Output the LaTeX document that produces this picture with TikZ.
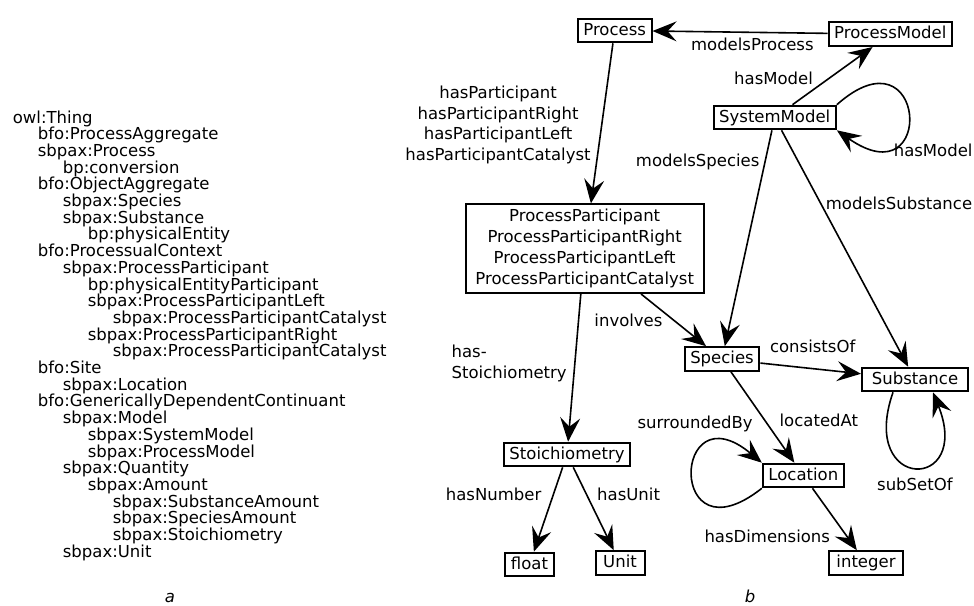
\documentclass[tikz,border=0pt]{standalone}
\usepackage{fontspec}
\setmainfont{DejaVu Sans}
\usetikzlibrary{arrows.meta}

\begin{document}
\begin{tikzpicture}[x=1pt, y=-1pt,
  every node/.style={font=\fontsize{16.5pt}{20.5pt}\selectfont},
  cls/.style={draw, line width=2pt, inner xsep=5.6pt, inner ysep=2pt,
    minimum height=23.6pt, text height=13pt, text depth=3.5pt},
  clsmulti/.style={draw, line width=2pt, inner xsep=9.8pt, inner ysep=4.8pt,
    align=center, font=\fontsize{16.5pt}{21pt}\selectfont},
  rel/.style={-{Stealth[length=24pt, width=20pt, inset=9pt]}, line width=1.6pt},
  lbl/.style={inner sep=3.3pt},
  tree/.style={anchor=base west, inner sep=0pt}]
  \useasboundingbox (0,0) rectangle (974,605);

  % Class hierarchy (a)
  \foreach \lev/\name [count=\i] in {0/owl:Thing, 1/bfo:ProcessAggregate,
      1/sbpax:Process, 2/bp:conversion, 1/bfo:ObjectAggregate, 2/sbpax:Species,
      2/sbpax:Substance, 3/bp:physicalEntity, 1/bfo:ProcessualContext,
      2/sbpax:ProcessParticipant, 3/bp:physicalEntityParticipant,
      3/sbpax:ProcessParticipantLeft, 4/sbpax:ProcessParticipantCatalyst,
      3/sbpax:ProcessParticipantRight, 4/sbpax:ProcessParticipantCatalyst,
      1/bfo:Site, 2/sbpax:Location, 1/bfo:GenericallyDependentContinuant,
      2/sbpax:Model, 3/sbpax:SystemModel, 3/sbpax:ProcessModel,
      2/sbpax:Quantity, 3/sbpax:Amount, 4/sbpax:SubstanceAmount,
      4/sbpax:SpeciesAmount, 4/sbpax:Stoichiometry, 2/sbpax:Unit}
    \node[tree] (t\i) at (12.7+25*\lev, 106.3+16.7*\i) {\name};

  % Classes (b)
  \node[cls] (process) at (614.7,30.5) {Process};
  \node[cls] (processmodel) at (890.3,34.2) {ProcessModel};
  \node[cls] (systemmodel) at (774.7,117.5) {SystemModel};
  \node[clsmulti] (participant) at (584.7,248.7)
    {ProcessParticipant\\ProcessParticipantRight\\ProcessParticipantLeft\\ProcessParticipantCatalyst};
  \node[cls] (species) at (722,359) {Species};
  \node[cls, minimum width=106pt] (substance) at (915,379.5) {Substance};
  \node[cls] (stoichiometry) at (567,454.5) {Stoichiometry};
  \node[cls] (float) at (529.5,564.5) {float};
  \node[cls, minimum width=49pt] (unit) at (620,563) {Unit};
  \node[cls] (location) at (803.3,475.5) {Location};
  \node[cls, minimum width=74.5pt] (integer) at (866,563) {integer};

  % Relations
  \draw[rel] (processmodel) -- node[lbl, pos=0.43, below=1.5pt] (lprocess) {modelsProcess} (process);
  \draw[rel] (process) -- node[lbl, pos=0.51, left=7pt, align=center] (lparticipant)
    {hasParticipant\\hasParticipantRight\\hasParticipantLeft\\hasParticipantCatalyst} (participant);
  \draw[rel] (systemmodel) -- node[lbl, pos=0.45, left=11.5pt] (lhasmodel) {hasModel} (processmodel);
  \draw[rel] (systemmodel.north east) .. controls +(90,-80) and +(100,70) .. (systemmodel.south east)
    node[lbl, pos=0.75, anchor=north west, yshift=5pt, xshift=-2pt] (lhasmodelself) {hasModel};
  \draw[rel] (systemmodel) -- node[lbl, pos=0.146, left=1.5pt] (lspecies) {modelsSpecies} (species);
  \draw[rel] (systemmodel) -- node[lbl, pos=0.31, right=1pt] (lsubstance) {modelsSubstance} (substance);
  \draw[rel] (participant) -- node[lbl, pos=0.5, left=7pt] (linvolves) {involves} (species);
  \draw[rel] (participant) -- node[lbl, pos=0.47, left=4pt, align=left] (lstoich)
    {has-\\Stoichiometry} (stoichiometry);
  \draw[rel] (species) -- node[lbl, pos=0.52, above=12pt] (lconsists) {consistsOf} (substance);
  \draw[rel] (species) -- node[lbl, pos=0.53, right=11pt] (llocated) {locatedAt} (location);
  \draw[rel] (location.south west) .. controls +(-95,75) and +(-90,-75) .. (location.north west)
    node[lbl, pos=0.8, above=8pt, xshift=-23pt] (lsurrounded) {surroundedBy};
  \draw[rel] (location) -- node[lbl, pos=0.78, left=13pt] (ldimensions) {hasDimensions} (integer);
  \draw[rel] ([xshift=-22pt]substance.south) .. controls +(-35,100) and +(40,100) .. ([xshift=18pt]substance.south)
    node[lbl, pos=0.5, below=6.5pt] (lsubset) {subSetOf};
  \draw[rel] (stoichiometry) -- node[lbl, pos=0.32, left=8pt] (lnumber) {hasNumber} (float);
  \draw[rel] (stoichiometry) -- node[lbl, pos=0.33, right=6.5pt] (lunit) {hasUnit} (unit);

  % Sub-figure letters
  \node[anchor=base, inner sep=0pt, font=\fontsize{16.5pt}{20pt}\selectfont\itshape] (suba) at (170,602) {a};
  \node[anchor=base, inner sep=0pt, font=\fontsize{16.5pt}{20pt}\selectfont\itshape] (subb) at (750,602) {b};
\end{tikzpicture}
\end{document}
